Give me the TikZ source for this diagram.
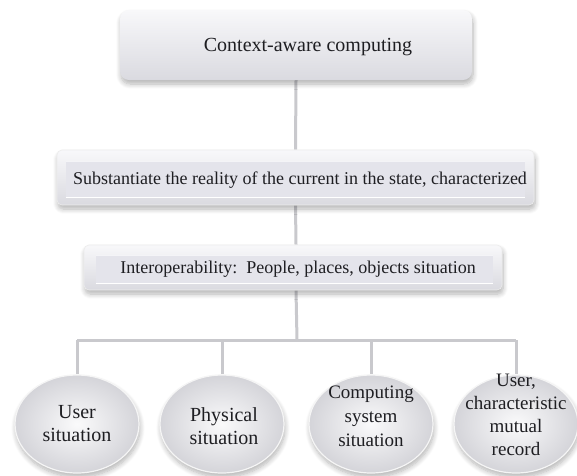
\documentclass[tikz,border=0pt]{standalone}
\usepackage{fontspec}
\setmainfont{Liberation Serif}
\usetikzlibrary{shapes.geometric,shadows.blur,backgrounds,calc}

\definecolor{linegray}{HTML}{C9C9CD}
\definecolor{txt}{HTML}{1E1E22}
\definecolor{boxtop}{HTML}{F8F8FA}
\definecolor{boxbot}{HTML}{DADAE0}
\definecolor{bevin}{HTML}{E4E4EB}
\definecolor{ballin}{HTML}{FAFAFB}
\definecolor{ballout}{HTML}{D4D4D9}

\tikzset{
  conn/.style={draw=linegray, line width=3pt},
  softshadow/.style={blur shadow={shadow xshift=1pt, shadow yshift=-4pt, shadow blur steps=8, shadow blur radius=5pt, shadow opacity=30}},
  topbox/.style={rectangle, rounded corners=9pt, minimum width=352pt, minimum height=70pt,
    top color=boxtop, bottom color=boxbot, draw=none, softshadow},
  bevbox/.style={rectangle, rounded corners=5pt, top color=boxtop, bottom color=boxbot,
    draw=white!85!gray, line width=0.6pt, softshadow},
  ball/.style={ellipse, minimum width=124pt, minimum height=98pt, inner sep=0pt,
    inner color=ballin, outer color=ballout, draw=white!92!gray, line width=1.2pt, softshadow},
  lbl/.style={text=txt, align=center, inner sep=0pt},
}

\begin{document}
\begin{tikzpicture}[x=1pt, y=-1pt]
\useasboundingbox (0,0) rectangle (577,475);

% top box
\node[topbox] (top) at (296,45) {};
\node[lbl, font=\fontsize{20}{24}\selectfont] (ttop) at (308,47) {Context-aware computing};

% second box (bevelled)
\node[bevbox, minimum width=477pt, minimum height=55pt] (b2) at (295.5,177.5) {};
\fill[bevin] ($(b2.north west)+(9,12)$) rectangle ($(b2.south east)+(-9,-8)$);
\draw[white, line width=1.4pt] ($(b2.south west)+(9,-8)$) -- ($(b2.south east)+(-9,-8)$);
\draw[white!60!bevin, line width=0.8pt] ($(b2.north west)+(9,12)$) -- ($(b2.north east)+(-9,12)$);
\node[lbl, font=\fontsize{18}{22}\selectfont] (t2) at (300,180) {Substantiate the reality of the current in the state, characterized};

% third box (bevelled)
\node[bevbox, minimum width=418pt, minimum height=45pt] (b3) at (293,267.5) {};
\fill[bevin] ($(b3.north west)+(12,11)$) rectangle ($(b3.south east)+(-9,-7)$);
\draw[white, line width=1.4pt] ($(b3.south west)+(12,-7)$) -- ($(b3.south east)+(-9,-7)$);
\draw[white!60!bevin, line width=0.8pt] ($(b3.north west)+(12,11)$) -- ($(b3.north east)+(-9,11)$);
\node[lbl, font=\fontsize{18}{22}\selectfont] (t3) at (298,269) {Interoperability:\ \ People,\ places,\ objects\ situation};

% circles
\node[ball] (c1) at (77,424) {};
\node[ball] (c2) at (222,424) {};
\node[ball] (c3) at (371,424) {};
\node[ball] (c4) at (516,424) {};

\node[lbl, font=\fontsize{20}{23}\selectfont] (tc1) at (c1) {User\\situation};
\node[lbl, font=\fontsize{20}{23}\selectfont] (tc2) at ($(c2)+(2,2)$) {Physical\\situation};
\node[lbl, font=\fontsize{19}{24}\selectfont] (tc3) at ($(c3)+(0,-8)$) {Computing\\system\\situation};
\node[lbl, font=\fontsize{19}{23}\selectfont] (tc4) at ($(c4)+(0,-9)$) {User,\\characteristic\\mutual\\record};

% connectors
\coordinate (j) at (297,340);
\begin{scope}[on background layer]
  \draw[conn] (top.south) -- (b2.north);
  \draw[conn] (b2.south) -- (b3.north -| top.south);
  \draw[conn] (b3.south -| top.south) -- (j);
  \draw[conn] (c1.north |- j) -- (c4.north |- j);
  \draw[conn] (c1.north |- j) -- (c1.north);
  \draw[conn] (c2.north |- j) -- (c2.north);
  \draw[conn] (c3.north |- j) -- (c3.north);
  \draw[conn] (c4.north |- j) -- (c4.north);
\end{scope}
\end{tikzpicture}
\end{document}
